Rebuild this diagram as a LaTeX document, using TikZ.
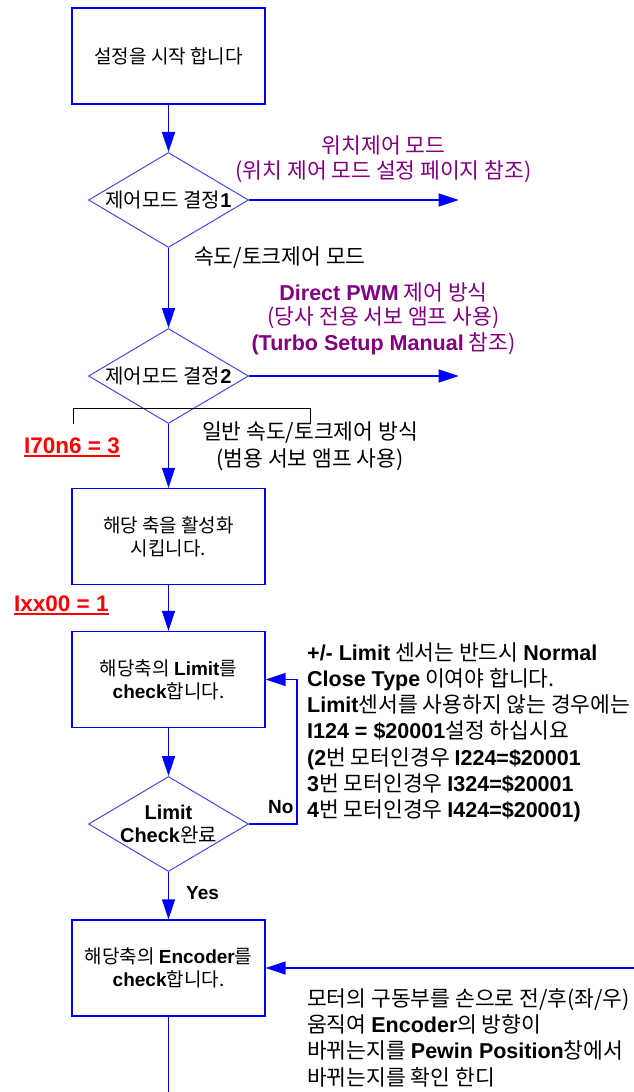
\documentclass[tikz,border=0pt]{standalone}
\usepackage{fontspec}
\setmainfont{Noto Sans CJK KR}
\newfontfamily\latfont{Liberation Sans}
\newcommand\E[1]{{\latfont\bfseries #1}}
\usetikzlibrary{arrows.meta,shapes.geometric}
\definecolor{flowblue}{RGB}{0,0,255}
\definecolor{diablue}{RGB}{70,70,245}
\definecolor{modepurple}{RGB}{128,0,128}
\definecolor{setred}{RGB}{255,0,0}

\begin{document}
\begin{tikzpicture}[x=1pt,y=-1pt,
  bodyfont/.style={font=\fontsize{19}{23}\selectfont},
  notefont/.style={font=\fontsize{21.5}{26}\selectfont},
  stepbox/.style={draw=flowblue, line width=1.2pt, minimum width=193pt,
    minimum height=96pt, inner sep=0pt, align=center, bodyfont},
  decide/.style={diamond, draw=diablue, line width=1pt, minimum width=160pt,
    minimum height=95pt, inner sep=0pt},
  dtext/.style={inner sep=0pt, align=center, font=\fontsize{20}{23}\selectfont},
  flow/.style={draw=flowblue, line width=1.4pt, -{Triangle[length=20pt,width=13pt]}},
  plainflow/.style={draw=flowblue, line width=1.4pt},
  label/.style={inner sep=0pt, notefont},
  answer/.style={inner sep=0pt, bodyfont},
  mode/.style={inner sep=0pt, notefont, text=modepurple},
  notel/.style={anchor=base west, inner sep=0pt, notefont},
  setting/.style={anchor=base west, inner sep=0pt, text=setred,
    font=\latfont\bfseries\fontsize{22.5}{26}\selectfont},
  uline/.style={draw=setred, line width=1.8pt}
]
\useasboundingbox (0,0) rectangle (633,1092);

% process boxes
\node[stepbox] (b1) at (168.5,56) {설정을 시작 합니다};
\node[stepbox] (b2) at (168.5,536.5) {해당 축을 활성화\\시킵니다.};
\node[stepbox] (b3) at (168.5,679.5) {해당축의 \E{Limit}를\\\E{check}합니다.};
\node[stepbox] (b4) at (168.5,968) {해당축의 \E{Encoder}를\\\E{check}합니다.};

% decisions
\node[decide] (d1) at (168.5,200) {};
\node[dtext] (d1t) at (d1.center) {제어모드 결정\E{1}};
\node[decide] (d2) at (168.5,376) {};
\node[dtext] (d2t) at (d2.center) {제어모드 결정\E{2}};
\node[decide] (d3) at (168.5,824) {};
\node[dtext] (d3t) at (d3.center) {\E{Limit}\\\E{Check}완료};

% free ends of the connectors
\coordinate (pos) at (458.6,200);
\coordinate (pwm) at (458.6,376);
\coordinate (noloop) at (297,824);
\coordinate (enc) at (634,968);
\coordinate (down) at (168.5,1093);

% connectors
\draw[flow] (b1) -- (d1);
\draw[flow] (d1.east) -- (pos);
\draw[flow] (d1) -- (d2);
\draw[flow] (d2.east) -- (pwm);
\draw[flow] (d2) -- (b2);
\draw[flow] (b2) -- (b3);
\draw[flow] (b3) -- (d3);
\draw[flow] (d3.east) -- (noloop) |- (b3.east);
\draw[flow] (d3) -- (b4);
\draw[flow] (enc) -- (b4.east);
\draw[plainflow] (b4.south) -- (down);

% bracket over the second decision
\coordinate (brl) at (73,424);
\coordinate (brr) at (310,424);
\draw[black, line width=1pt] (brl) -- ++(0,-16) -| (brr);

% branch labels
\node[mode] (m1) at (383.5,145) {위치제어 모드};
\node[mode] (m2) at (383.5,172) {(위치 제어 모드 설정 페이지 참조)};
\node[mode] (m3) at (383.5,292) {\E{Direct PWM} 제어 방식};
\node[mode] (m4) at (383.5,318) {(당사 전용 서보 앰프 사용)};
\node[mode] (m5) at (383.5,344) {\E{(Turbo Setup Manual} 참조)};
\node[label, anchor=west] (v1) at (194,258) {속도/토크제어 모드};
\node[label] (g1) at (310,433) {일반 속도/토크제어 방식};
\node[label] (g2) at (310,460) {(범용 서보 앰프 사용)};
\node[answer, anchor=west] (yes) at (186,893) {\E{Yes}};
\node[answer, anchor=west] (no) at (268,807) {\E{No}};

% parameter settings
\node[setting] (s1) at (24,453) {I70n6 = 3};
\draw[uline] ([yshift=-3pt]s1.base west) -- ([yshift=-3pt]s1.base east);
\node[setting] (s2) at (14,611) {Ixx00 = 1};
\draw[uline] ([yshift=-3pt]s2.base west) -- ([yshift=-3pt]s2.base east);

% limit sensor note
\node[notel] (n1) at (307,660) {\E{+/- Limit} 센서는 반드시 \E{Normal}};
\node[notel] (n2) at (307,686.3) {\E{Close Type} 이여야 합니다.};
\node[notel] (n3) at (307,712.6) {\E{Limit}센서를 사용하지 않는 경우에는};
\node[notel] (n4) at (307,738.9) {\E{I124 = \$20001}설정 하십시요};
\node[notel] (n5) at (307,765.2) {\E{(2}번 모터인경우 \E{I224=\$20001}};
\node[notel] (n6) at (307,791.5) {\E{3}번 모터인경우 \E{I324=\$20001}};
\node[notel] (n7) at (307,817.8) {\E{4}번 모터인경우 \E{I424=\$20001)}};

% encoder note
\node[notel] (e1) at (307,1006) {모터의 구동부를 손으로 전/후(좌/우)};
\node[notel] (e2) at (307,1032.4) {움직여 \E{Encoder}의 방향이};
\node[notel] (e3) at (307,1058.8) {바뀌는지를 \E{Pewin Position}창에서};
\node[notel] (e4) at (307,1085.2) {바뀌는지를 확인 한디};
\end{tikzpicture}
\end{document}
